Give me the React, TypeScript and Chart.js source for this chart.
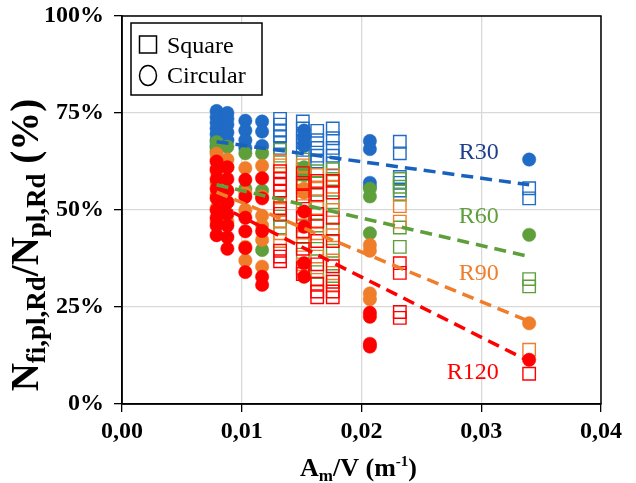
import React, { useEffect, useRef } from 'react';
import { Chart, registerables } from 'chart.js';
Chart.register(...registerables);

const SERIF = '"Liberation Serif", "Times New Roman", serif';

// x positions (A_m/V, m^-1) of the point columns
const circleX = [0.0079, 0.0088, 0.0103, 0.0117, 0.0152, 0.0207, 0.034];
const squareX = [0.0132, 0.0151, 0.0163, 0.0176, 0.0232, 0.034];

// Circular sections, % per column
const circleR30 = [[75.5, 74, 72.5, 71, 69.5, 68, 66.5], [75, 73.5, 72, 70, 68], [73, 70.5, 68, 66], [72.8, 70.2, 66.5], [70.5, 68.5, 66.5], [67.8, 65.7, 57, 56], [63]];
const circleR60 = [[67.5, 66, 65], [66.3], [64.6, 55.5], [64.6, 55, 39.7], [61, 59], [55.5, 53.5, 44], [43.6]];
const circleR90 = [[64.5, 63, 60, 57, 54, 50.5, 47], [63, 61, 52, 47], [60.8, 54.4, 50, 40.5, 37], [61.4, 53.4, 48.5, 46, 42.3, 35.4], [55.5, 54.5], [41, 39.5, 28.5, 27], [20.8]];
const circleR120 = [[62.5, 60.5, 58, 55.5, 53, 50, 48, 46, 43.5], [61, 58, 55, 52, 49, 46, 43, 40], [57.8, 53.4, 48, 44.5, 40.2, 34], [58.2, 53, 44.6, 32.8, 30.7], [49.6, 45.7, 36.3, 32.8], [23.5, 22.5, 15.5, 14.8], [11.4]];

// Square sections, % per column
const squareR30 = [[73.5, 72, 70.5, 69, 67.5, 66], [72.8, 71, 69, 67.5, 65.5], [70.4, 68, 66, 64, 62.5], [71, 68.5, 66, 64, 62], [67.6, 64.6, 58.5, 57, 55], [55.6, 53]];
const squareR60 = [[65.5, 64, 51.5, 47, 45.5], [63, 60.5, 56, 49, 43, 38.5], [60, 57, 52, 46, 40, 34], [60.5, 58, 52, 45, 39.5, 33], [58, 56, 54, 45.5, 40.5], [32.2, 30.3]];
const squareR90 = [[62.5, 61.5, 53.5, 50, 44, 42], [61.5, 58, 55, 51, 46, 41, 36], [59, 55.5, 50.5, 44, 38, 32], [59, 56, 50, 43.5, 37, 30.5], [51, 47], [14]];
const squareR120 = [[60, 58, 56.5, 55, 50.5, 49, 39.5, 38, 36.8], [59.5, 57, 53.5, 48, 44.5, 40, 35, 33.5], [57.5, 54, 49, 47, 42, 36, 31, 29, 27.5], [57.5, 54.5, 48, 42, 35.5, 31.5, 29, 27.5], [36.3, 33.8, 23.7, 22.2], [7.8]];

// Dashed trend lines
const trendX = [0.0079, 0.034];
const trendR30 = [67.6, 56.5];
const trendR60 = [56.5, 38];
const trendR90 = [54.6, 21.3];
const trendR120 = [51.5, 11];

// Series labels
const seriesNames = ['R30', 'R60', 'R90', 'R120'];
const labelX = [0.0298, 0.0298, 0.0298, 0.0293];
const labelY = [64.8, 48.3, 33.7, 8];

const xTicks = [0, 0.01, 0.02, 0.03, 0.04];
const yTicks = [0, 25, 50, 75, 100];

const BLUE = '#1F6BC5';
const GREEN = '#5E9F3B';
const ORANGE = '#F07D2A';
const RED = '#FF0000';
const colors = [BLUE, GREEN, ORANGE, RED];
const labelColors = ['#1F3E8C', GREEN, ORANGE, RED];

function pts(xs: number[], ys: number[][]) {
  const out: { x: number; y: number }[] = [];
  xs.forEach((x, i) => ys[i].forEach((y) => out.push({ x, y })));
  return out;
}
function line(xs: number[], ys: number[]) {
  return xs.map((x, i) => ({ x, y: ys[i] }));
}

type Seg = { t: string; size: number; dy: number };
function drawSegs(ctx: CanvasRenderingContext2D, segs: Seg[], cx: number, baseline: number) {
  let total = 0;
  const widths = segs.map((s) => {
    ctx.font = `bold ${s.size}px ${SERIF}`;
    const w = ctx.measureText(s.t).width;
    total += w;
    return w;
  });
  let x = cx - total / 2;
  segs.forEach((s, i) => {
    ctx.font = `bold ${s.size}px ${SERIF}`;
    ctx.fillText(s.t, x, baseline + s.dy);
    x += widths[i];
  });
}

export default function App() {
  const ref = useRef<HTMLCanvasElement>(null);
  useEffect(() => {
    const decor = {
      id: 'decor',
      afterDraw(chart: any) {
        const { ctx, chartArea: ca, scales } = chart;
        const xs = scales.x;
        const ys = scales.y;
        ctx.save();
        // plot frame
        ctx.strokeStyle = '#000';
        ctx.lineWidth = 1.5;
        ctx.strokeRect(ca.left, ca.top, ca.right - ca.left, ca.bottom - ca.top);

        // series labels
        ctx.font = `24px ${SERIF}`;
        ctx.textAlign = 'center';
        ctx.textBaseline = 'middle';
        seriesNames.forEach((n, i) => {
          ctx.fillStyle = labelColors[i];
          ctx.fillText(n, xs.getPixelForValue(labelX[i]), ys.getPixelForValue(labelY[i]));
        });

        // legend
        const lx = ca.left + 9;
        const ly = ca.top + 7;
        ctx.fillStyle = '#fff';
        ctx.fillRect(lx, ly, 131, 72);
        ctx.strokeStyle = '#000';
        ctx.lineWidth = 1.5;
        ctx.strokeRect(lx, ly, 131, 72);
        ctx.strokeRect(lx + 8.5, ly + 13, 17, 17);
        ctx.beginPath();
        ctx.ellipse(lx + 17, ly + 52.5, 8.5, 10, 0, 0, Math.PI * 2);
        ctx.stroke();
        ctx.fillStyle = '#000';
        ctx.textAlign = 'left';
        ctx.textBaseline = 'alphabetic';
        ctx.font = `24px ${SERIF}`;
        ctx.fillText('Square', lx + 36, ly + 30);
        ctx.fillText('Circular', lx + 36, ly + 60);

        // y axis title
        ctx.save();
        ctx.translate(38, 245);
        ctx.rotate(-Math.PI / 2);
        drawSegs(ctx, [
          { t: 'N', size: 39, dy: 0 },
          { t: 'fi,pl,Rd', size: 27, dy: 7 },
          { t: '/N', size: 39, dy: 0 },
          { t: 'pl,Rd', size: 27, dy: 7 },
          { t: ' (%)', size: 39, dy: 0 },
        ], 0, 0);
        ctx.restore();

        // x axis title
        drawSegs(ctx, [
          { t: 'A', size: 26, dy: 0 },
          { t: 'm', size: 17, dy: 5 },
          { t: '/V (m', size: 26, dy: 0 },
          { t: '-1', size: 15, dy: -10 },
          { t: ')', size: 26, dy: 0 },
        ], (ca.left + ca.right) / 2 - 3, 476);
        ctx.restore();
      },
    };

    const circ = (label: string, ys: number[][], c: string, order: number) => ({
      label,
      data: pts(circleX, ys),
      pointStyle: 'circle',
      pointRadius: 6.7,
      backgroundColor: c,
      borderColor: c,
      borderWidth: 0.5,
      showLine: false,
      order,
    });
    const sq = (label: string, ys: number[][], c: string, order: number) => ({
      label,
      data: pts(squareX, ys),
      pointStyle: 'rect',
      pointRadius: 8.8,
      backgroundColor: 'rgba(0,0,0,0)',
      borderColor: c,
      borderWidth: 1.4,
      showLine: false,
      order,
    });
    const tr = (label: string, ys: number[], c: string, order: number) => ({
      label,
      data: line(trendX, ys),
      showLine: true,
      pointRadius: 0,
      borderColor: c,
      borderWidth: 3.5,
      borderDash: [12, 7],
      fill: false,
      order,
    });

    const chart = new Chart(ref.current!, {
      type: 'scatter',
      data: {
        datasets: [
          tr('Trend R120', trendR120, RED, 1),
          tr('Trend R90', trendR90, ORANGE, 2),
          tr('Trend R60', trendR60, GREEN, 3),
          tr('Trend R30', trendR30, '#1861BD', 4),
          circ('Circular R120', circleR120, colors[3], 5),
          sq('Square R120', squareR120, colors[3], 6),
          sq('Square R90', squareR90, colors[2], 7),
          circ('Circular R90', circleR90, colors[2], 8),
          sq('Square R60', squareR60, colors[1], 9),
          circ('Circular R60', circleR60, colors[1], 10),
          sq('Square R30', squareR30, colors[0], 11),
          circ('Circular R30', circleR30, colors[0], 12),
        ] as any,
      },
      options: {
        animation: false,
        responsive: true,
        maintainAspectRatio: false,
        layout: { padding: { top: 16, right: 35, left: 0, bottom: 0 }, autoPadding: false } as any,
        plugins: { legend: { display: false }, tooltip: { enabled: false } },
        scales: {
          x: {
            type: 'linear',
            min: 0,
            max: 0.04,
            afterBuildTicks: (s: any) => { s.ticks = xTicks.map((v) => ({ value: v })); },
            afterFit: (s: any) => { s.height = 79; s.paddingLeft = 0; s.paddingRight = 0; },
            ticks: {
              callback: (v: any) => Number(v).toFixed(2).replace('.', ','),
              font: { family: SERIF, size: 24, weight: 'bold' },
              color: '#000',
              padding: 5,
              maxRotation: 0,
            },
            grid: { color: '#d9d9d9', lineWidth: 1.3, tickColor: '#000', tickLength: 8, tickWidth: 1.3 },
            border: { color: '#000', width: 1.5 },
          },
          y: {
            type: 'linear',
            min: 0,
            max: 100,
            afterBuildTicks: (s: any) => { s.ticks = yTicks.map((v) => ({ value: v })); },
            afterFit: (s: any) => { s.width = 122; s.paddingTop = 0; s.paddingBottom = 0; },
            ticks: {
              callback: (v: any) => `${v}%`,
              font: { family: SERIF, size: 24, weight: 'bold' },
              color: '#000',
              padding: 10,
            },
            grid: { color: '#d9d9d9', lineWidth: 1.3, tickColor: '#000', tickLength: 8, tickWidth: 1.3 },
            border: { color: '#000', width: 1.5 },
          },
        },
      } as any,
      plugins: [decor],
    });
    return () => chart.destroy();
  }, []);
  return (
    <div style={{ position: 'absolute', left: 0, top: 0, width: 636, height: 483 }}>
      <canvas ref={ref} />
    </div>
  );
}
